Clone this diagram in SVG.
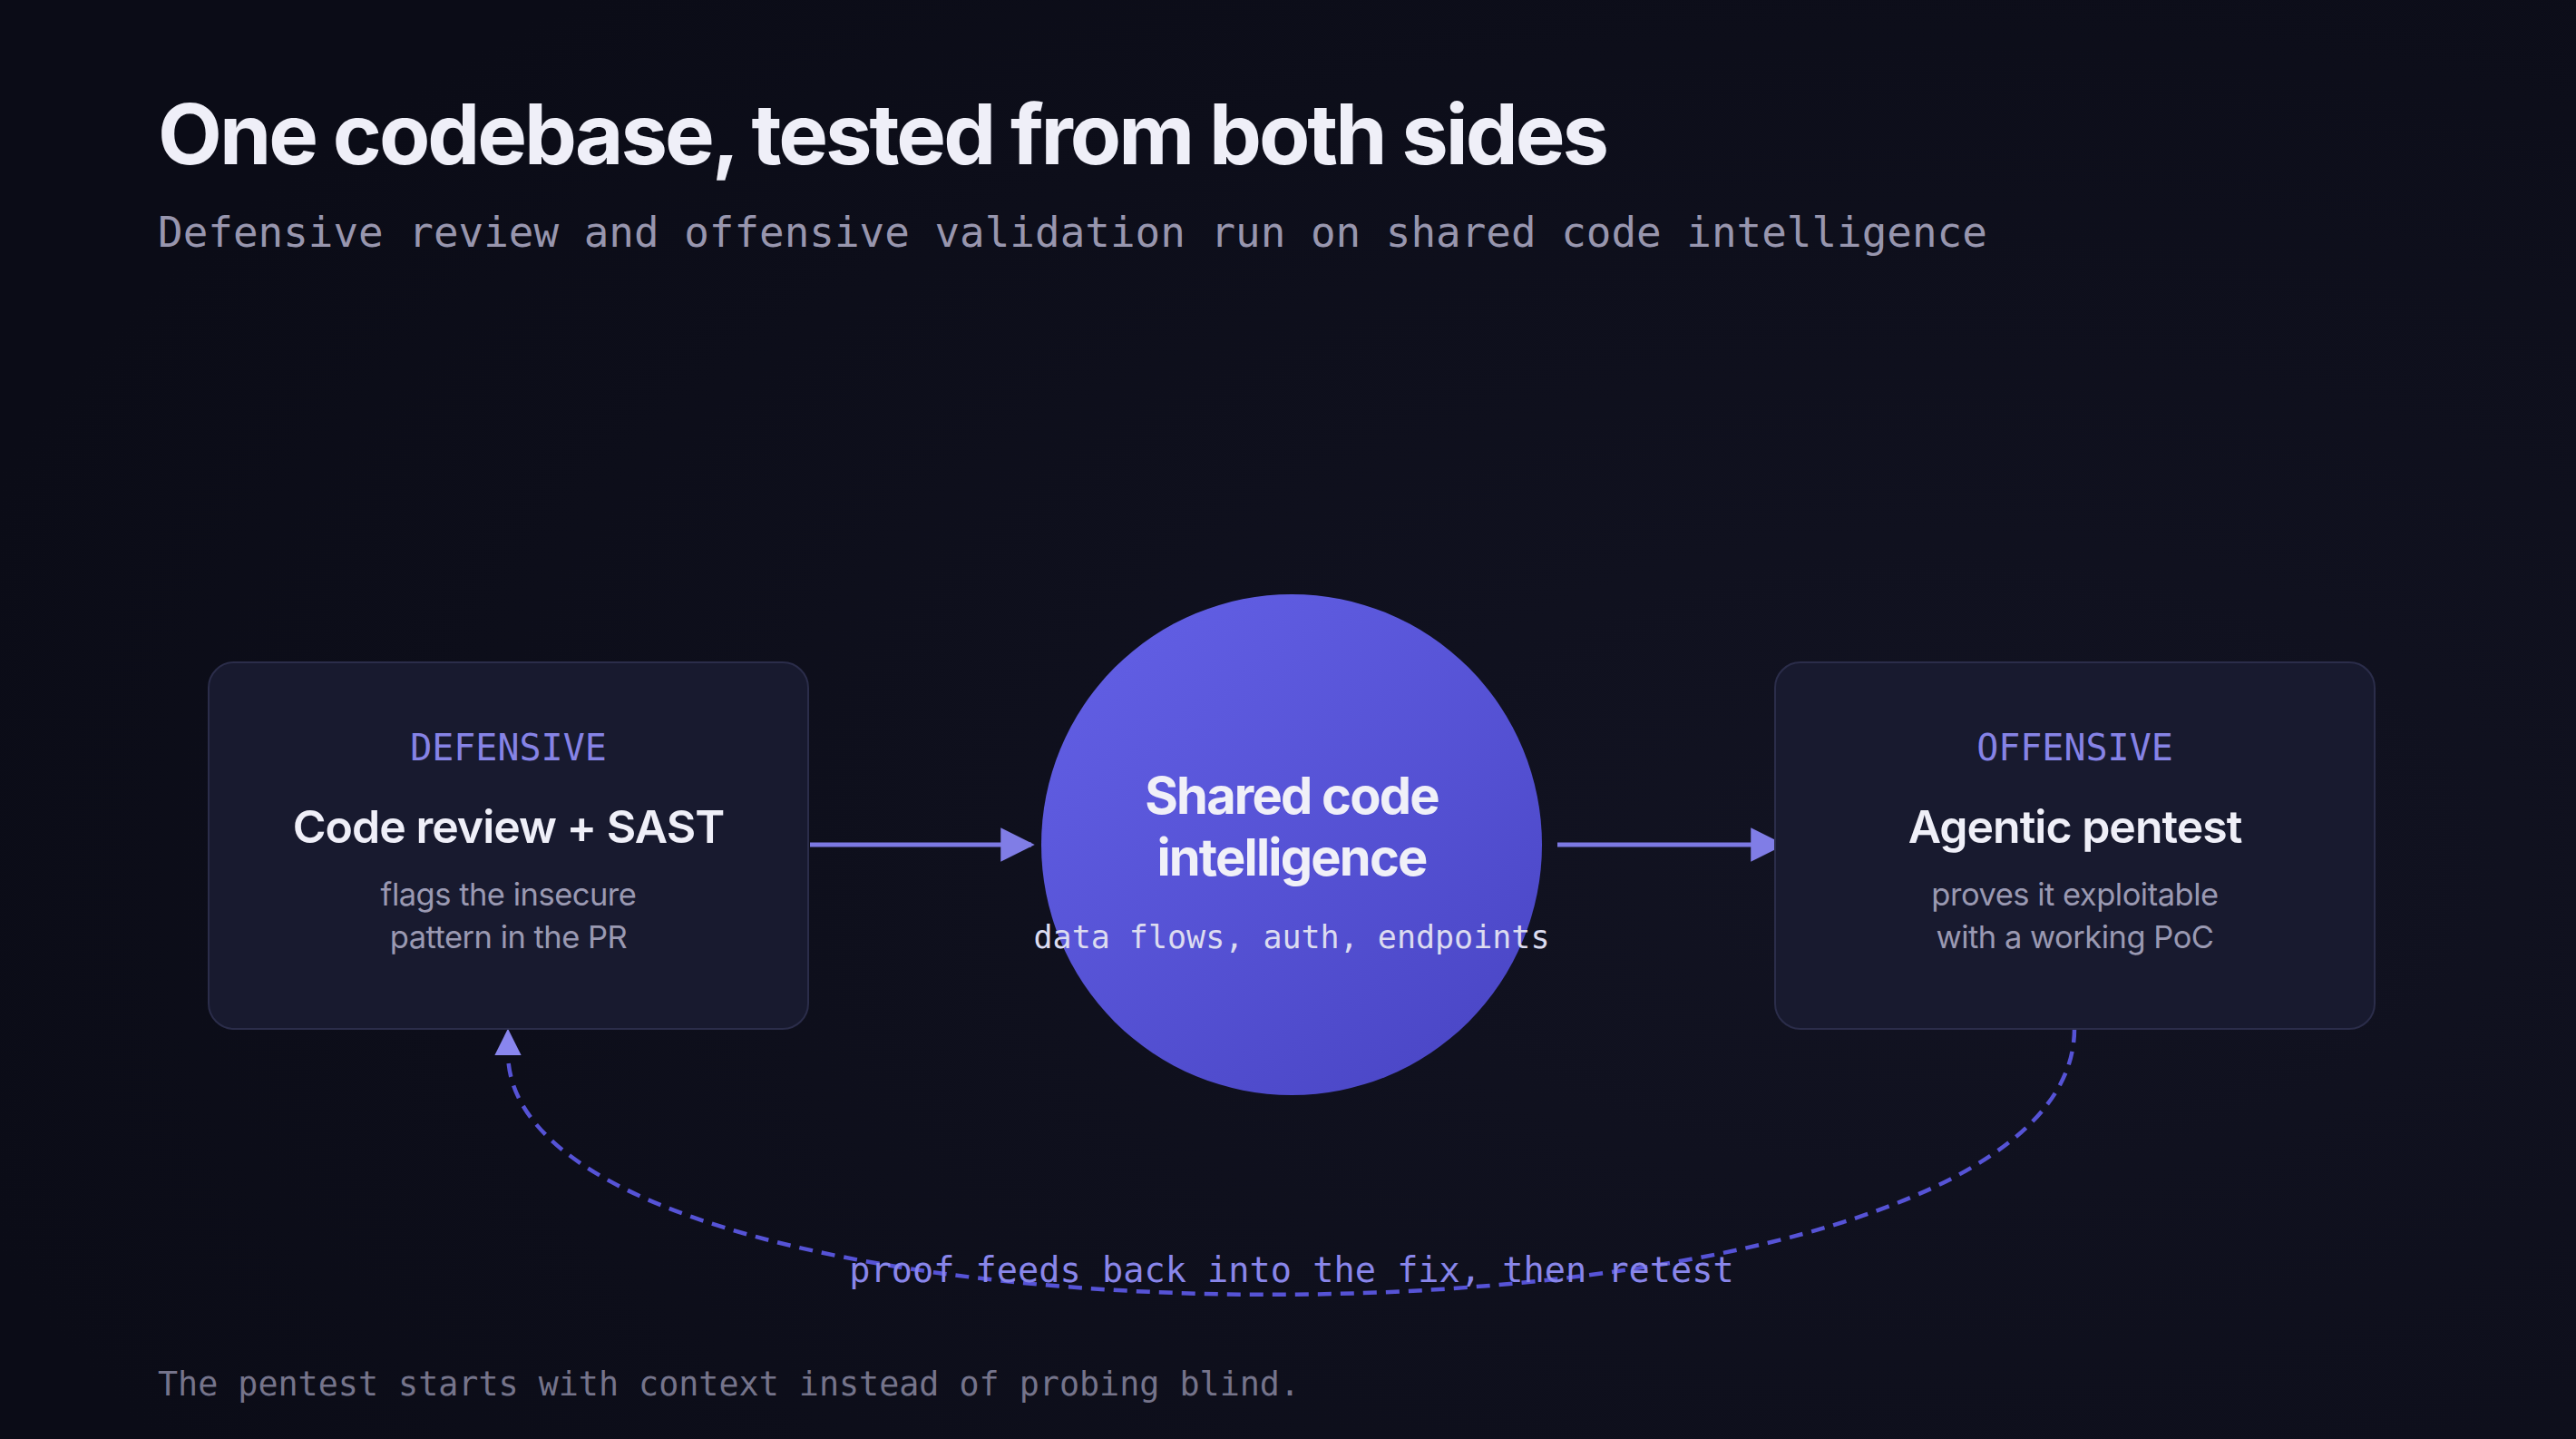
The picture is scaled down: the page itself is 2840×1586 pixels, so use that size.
<svg xmlns="http://www.w3.org/2000/svg" width="2840" height="1586" viewBox="0 0 2840 1586">
  <defs>
    <radialGradient id="bg" cx="0.75" cy="0.6" r="0.8">
      <stop offset="0" stop-color="#121322"/>
      <stop offset="1" stop-color="#0b0c17"/>
    </radialGradient>
    <linearGradient id="core" x1="0.2" y1="0.1" x2="0.8" y2="0.9">
      <stop offset="0" stop-color="#605de2"/>
      <stop offset="1" stop-color="#4c48c8"/>
    </linearGradient>
    <marker id="arrow" viewBox="0 0 10 10" refX="9" refY="5" markerWidth="8" markerHeight="7.5" markerUnits="strokeWidth" orient="auto">
      <path d="M0,0 L10,5 L0,10 Z" fill="#807de6"/>
    </marker>
    <marker id="arrowUp" viewBox="0 0 10 10" refX="1" refY="5" markerWidth="6.5" markerHeight="6.5" markerUnits="strokeWidth" orient="auto-start-reverse">
      <path d="M0,0 L10,5 L0,10 Z" fill="#8986ee"/>
    </marker>
    <style>
      .title{font-family:Inter,"Liberation Sans",sans-serif;font-weight:700;font-size:92px;fill:#efeff8;letter-spacing:-3px}
      .sub{font-family:"DejaVu Sans Mono","Liberation Mono",monospace;font-size:45.9px;fill:#9896ae}
      .foot{font-family:"DejaVu Sans Mono","Liberation Mono",monospace;font-size:36.7px;fill:#75748b}
      .box{fill:#181a2f;stroke:#2b2d4a;stroke-width:2}
      .tag{font-family:"DejaVu Sans Mono","Liberation Mono",monospace;font-size:40px;fill:#8683e6;text-anchor:middle}
      .head{font-family:Inter,"Liberation Sans",sans-serif;font-weight:600;font-size:50px;fill:#efeff8;text-anchor:middle;letter-spacing:-1px}
      .desc{font-family:Inter,"Liberation Sans",sans-serif;font-size:34.5px;fill:#9a99b2;text-anchor:middle;letter-spacing:-0.5px}
      .core{font-family:Inter,"Liberation Sans",sans-serif;font-weight:700;font-size:56px;fill:#f0f0f8;text-anchor:middle;letter-spacing:-1.8px}
      .coresub{font-family:"DejaVu Sans Mono","Liberation Mono",monospace;font-size:35px;fill:#dcdcf0;text-anchor:middle}
      .flow{fill:none;stroke:#7c79e3;stroke-width:5}
      .loop{fill:none;stroke:#5653d6;stroke-width:4.5;stroke-dasharray:15 10}
      .looplabel{font-family:"DejaVu Sans Mono","Liberation Mono",monospace;font-size:38.6px;fill:#8986ea;text-anchor:middle}
    </style>
  </defs>
  <rect x="0" y="0" width="2840" height="1586" fill="url(#bg)"/>

  <text class="title" x="174" y="181">One codebase, tested from both sides</text>
  <text class="sub" x="174" y="272">Defensive review and offensive validation run on shared code intelligence</text>

  <g id="connectors">
    <line class="flow" x1="893" y1="931" x2="1137" y2="931" marker-end="url(#arrow)"/>
    <line class="flow" x1="1717" y1="931" x2="1964" y2="931" marker-end="url(#arrow)"/>
    <path class="loop" d="M2287,1134 C2287,1520 560,1520 560,1160" marker-end="url(#arrowUp)"/>
    <text class="looplabel" x="1424" y="1413">proof feeds back into the fix, then retest</text>
  </g>

  <g id="defensive">
    <rect class="box" x="230" y="730" width="661" height="404" rx="28"/>
    <text class="tag" x="560.5" y="838">DEFENSIVE</text>
    <text class="head" x="560.5" y="929">Code review + SAST</text>
    <text class="desc" x="560.5" y="998">flags the insecure</text>
    <text class="desc" x="560.5" y="1045">pattern in the PR</text>
  </g>

  <g id="shared">
    <circle cx="1424" cy="931" r="276" fill="url(#core)"/>
    <text class="core" x="1424" y="897">Shared code</text>
    <text class="core" x="1424" y="965">intelligence</text>
    <text class="coresub" x="1424" y="1045">data flows, auth, endpoints</text>
  </g>

  <g id="offensive">
    <rect class="box" x="1957" y="730" width="661" height="404" rx="28"/>
    <text class="tag" x="2287.5" y="838">OFFENSIVE</text>
    <text class="head" x="2287.5" y="929">Agentic pentest</text>
    <text class="desc" x="2287.5" y="998">proves it exploitable</text>
    <text class="desc" x="2287.5" y="1045">with a working PoC</text>
  </g>

  <text class="foot" x="174" y="1538">The pentest starts with context instead of probing blind.</text>
</svg>
